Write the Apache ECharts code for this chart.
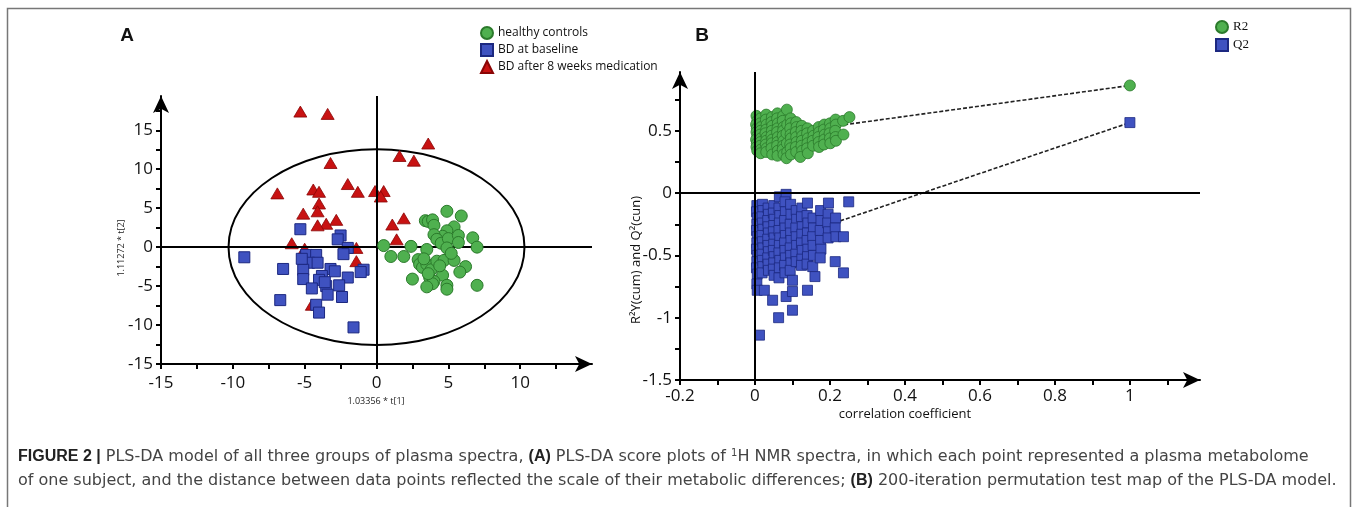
<!DOCTYPE html>
<html>
<head>
<meta charset="utf-8">
<title>PLS-DA</title>
<script src="https://cdn.jsdelivr.net/npm/echarts@6.0.0/dist/echarts.min.js"></script>
<style>
  html, body { margin: 0; padding: 0; background: #fff; }
  #main { width: 1357px; height: 507px; }
</style>
</head>
<body>
<div id="main"></div>
<script>
// A: score plot (x = t[1], y = t[2])
var healthy = [[0.5,0.2],[1.0,-1.2],[1.9,-1.2],[2.4,0.1],[2.5,-4.1],[2.9,-1.6],[3.0,-2.2],[3.2,-2.6],[3.5,-0.3],[3.5,-2.2],
  [3.8,-2.9],[3.4,3.4],[3.6,3.3],[3.9,3.5],[4.0,2.8],[4.9,4.6],[5.9,4.0],[5.4,2.6],[4.9,2.1],[4.6,1.4],
  [4.0,1.6],[4.2,1.0],[4.5,0.5],[5.0,1.1],[5.7,1.5],[5.7,0.6],[4.9,-0.1],[6.7,1.2],[7.0,0.0],[4.2,-1.8],
  [4.7,-1.7],[5.4,-1.7],[6.2,-2.5],[5.8,-3.2],[4.6,-3.6],[3.7,-3.9],[4.0,-4.4],[3.9,-4.7],[3.5,-5.1],[4.9,-4.9],
  [4.9,-5.4],[7.0,-4.9],[3.3,-1.5],[4.4,-2.4],[3.6,-3.4],[5.2,-0.8]];
var baseline = [[-5.3,2.3],[-9.2,-1.3],[-6.5,-2.8],[-6.7,-6.8],[-2.5,1.5],[-2.7,1.0],[-2.0,-0.1],[-2.3,-0.9],[-4.9,-1.0],[-4.2,-1.0],
  [-4.7,-2.0],[-4.1,-2.0],[-5.1,-2.9],[-3.2,-2.8],[-2.9,-3.1],[-0.9,-2.9],[-1.1,-3.2],[-5.1,-4.1],[-3.8,-3.7],[-4.0,-4.2],
  [-2.0,-3.9],[-4.5,-5.3],[-3.5,-5.0],[-3.4,-6.1],[-2.6,-4.9],[-2.4,-6.4],[-4.2,-7.4],[-4.0,-8.4],[-1.6,-10.3],[-3.6,-4.5],
  [-5.2,-1.5]];
var medicated = [[-5.3,17.4],[-3.4,17.1],[3.6,13.3],[1.6,11.7],[2.6,11.1],[-3.2,10.8],[-6.9,6.9],[-4.4,7.4],[-4.0,7.1],[-2.0,8.1],
  [-1.3,7.1],[-0.1,7.2],[0.5,7.2],[0.3,6.5],[-4.0,5.6],[-4.1,4.6],[-5.1,4.3],[-2.8,3.5],[-3.5,3.0],[-4.1,2.8],
  [1.1,2.9],[1.9,3.7],[1.4,1.0],[-5.9,0.5],[-5.0,-0.2],[-1.4,-0.1],[-1.4,-1.8],[-4.5,-7.4]];
// Hotelling ellipse: center x, center y, radius x, radius y
var ellipseA = [[0, 0, 10.3, 12.55]];

var labelsXA = [-15, -10, -5, 0, 5, 10];
var ticksXA = [-15, -12.5, -10, -7.5, -5, -2.5, 0, 2.5, 5, 7.5, 10, 12.5];
var labelsYA = [-15, -10, -5, 0, 5, 10, 15];
var ticksYA = [-15, -12.5, -10, -7.5, -5, -2.5, 0, 2.5, 5, 7.5, 10, 12.5, 15, 17.5];

// B: permutation test (x = correlation coefficient)
var r2Perm = [[0.004,0.62],[0.006,0.58],[0.003,0.55],[0.005,0.52],[0.004,0.49],[0.006,0.46],[0.003,0.43],[0.005,0.40],[0.004,0.37],[0.006,0.34],
  [0.015,0.60],[0.014,0.56],[0.016,0.53],[0.015,0.50],[0.014,0.47],[0.016,0.44],[0.015,0.41],[0.014,0.38],[0.016,0.35],[0.015,0.32],
  [0.030,0.63],[0.029,0.59],[0.031,0.55],[0.030,0.51],[0.028,0.48],[0.031,0.45],[0.030,0.42],[0.029,0.39],[0.031,0.36],[0.030,0.33],
  [0.045,0.61],[0.044,0.57],[0.046,0.54],[0.045,0.50],[0.044,0.46],[0.046,0.43],[0.045,0.40],[0.044,0.36],[0.046,0.31],
  [0.060,0.64],[0.059,0.60],[0.061,0.56],[0.060,0.52],[0.059,0.49],[0.061,0.45],[0.060,0.41],[0.059,0.38],[0.061,0.34],[0.060,0.30],
  [0.075,0.62],[0.074,0.58],[0.076,0.53],[0.075,0.50],[0.074,0.46],[0.076,0.42],[0.075,0.38],[0.074,0.35],[0.076,0.31],
  [0.085,0.67],[0.086,0.55],[0.084,0.48],[0.085,0.40],[0.086,0.33],[0.084,0.28],
  [0.095,0.60],[0.096,0.56],[0.094,0.52],[0.095,0.47],[0.096,0.44],[0.094,0.39],[0.095,0.36],[0.096,0.31],
  [0.110,0.57],[0.111,0.53],[0.109,0.49],[0.110,0.45],[0.111,0.41],[0.109,0.37],[0.110,0.33],
  [0.125,0.54],[0.124,0.50],[0.126,0.46],[0.125,0.42],[0.124,0.38],[0.126,0.34],[0.121,0.29],
  [0.140,0.52],[0.139,0.48],[0.141,0.44],[0.140,0.40],[0.139,0.36],[0.141,0.32],
  [0.155,0.50],[0.156,0.46],[0.154,0.42],[0.155,0.38],
  [0.170,0.53],[0.171,0.49],[0.169,0.45],[0.170,0.41],[0.171,0.37],
  [0.185,0.55],[0.184,0.51],[0.186,0.47],[0.185,0.43],[0.184,0.39],
  [0.200,0.56],[0.201,0.52],[0.199,0.48],[0.200,0.44],[0.201,0.40],
  [0.215,0.59],[0.216,0.55],[0.214,0.50],[0.215,0.45],[0.216,0.42],
  [0.235,0.58],[0.236,0.47],[0.252,0.61]];
var q2Perm = [[0.005,-0.10],[0.004,-0.15],[0.006,-0.20],[0.005,-0.25],[0.004,-0.30],[0.006,-0.35],[0.005,-0.40],[0.004,-0.45],[0.006,-0.50],[0.005,-0.55],
  [0.004,-0.60],[0.006,-0.65],[0.005,-0.73],[0.006,-0.78],
  [0.020,-0.09],[0.021,-0.14],[0.019,-0.19],[0.020,-0.24],[0.021,-0.29],[0.019,-0.34],[0.020,-0.39],[0.021,-0.44],[0.019,-0.49],[0.020,-0.54],
  [0.021,-0.59],[0.019,-0.64],[0.025,-0.78],
  [0.035,-0.12],[0.036,-0.17],[0.034,-0.22],[0.035,-0.27],[0.036,-0.32],[0.034,-0.37],[0.035,-0.42],[0.036,-0.47],[0.034,-0.52],[0.035,-0.57],
  [0.036,-0.62],
  [0.050,-0.10],[0.049,-0.16],[0.051,-0.21],[0.050,-0.26],[0.049,-0.31],[0.051,-0.36],[0.050,-0.41],[0.049,-0.46],[0.051,-0.51],[0.050,-0.56],
  [0.049,-0.61],[0.051,-0.66],[0.047,-0.86],
  [0.065,-0.03],[0.064,-0.12],[0.066,-0.18],[0.065,-0.24],[0.064,-0.30],[0.066,-0.36],[0.065,-0.42],[0.064,-0.48],[0.066,-0.54],[0.065,-0.60],
  [0.064,-0.68],[0.063,-1.00],
  [0.083,-0.01],[0.080,-0.07],[0.081,-0.15],[0.079,-0.22],[0.080,-0.28],[0.081,-0.34],[0.079,-0.40],[0.080,-0.46],[0.081,-0.52],[0.079,-0.58],
  [0.080,-0.64],[0.083,-0.83],
  [0.095,-0.09],[0.096,-0.17],[0.094,-0.25],[0.095,-0.32],[0.096,-0.38],[0.094,-0.44],[0.095,-0.50],[0.096,-0.56],[0.094,-0.62],[0.100,-0.70],
  [0.100,-0.79],[0.100,-0.94],
  [0.110,-0.14],[0.111,-0.21],[0.109,-0.28],[0.110,-0.35],[0.111,-0.42],[0.109,-0.49],[0.110,-0.55],
  [0.125,-0.12],[0.124,-0.19],[0.126,-0.27],[0.125,-0.33],[0.124,-0.40],[0.126,-0.46],[0.125,-0.53],[0.124,-0.58],
  [0.140,-0.08],[0.139,-0.18],[0.141,-0.24],[0.140,-0.32],[0.139,-0.38],[0.141,-0.45],[0.140,-0.51],[0.139,-0.57],[0.140,-0.78],
  [0.155,-0.20],[0.156,-0.28],[0.154,-0.35],[0.155,-0.42],[0.156,-0.50],[0.154,-0.59],[0.160,-0.67],
  [0.175,-0.14],[0.176,-0.22],[0.174,-0.30],[0.175,-0.38],[0.176,-0.45],[0.174,-0.52],
  [0.196,-0.08],[0.195,-0.17],[0.194,-0.24],[0.196,-0.31],[0.195,-0.36],
  [0.215,-0.20],[0.214,-0.28],[0.216,-0.35],[0.214,-0.55],
  [0.236,-0.35],[0.236,-0.64],[0.250,-0.07],[0.012,-1.14]];
var r2Model = [[1, 0.864]];
var q2Model = [[1, 0.566]];
// regression lines through the permutations (intercept at x = 0)
var r2Line = [[0, 0.45], [1, 0.864]];
var q2Line = [[0, -0.455], [1, 0.566]];

var labelsXB = [-0.2, 0, 0.2, 0.4, 0.6, 0.8, 1];
var ticksXB = [-0.2, -0.1, 0, 0.1, 0.2, 0.3, 0.4, 0.5, 0.6, 0.7, 0.8, 0.9, 1, 1.1];
var labelsYB = [-1.5, -1, -0.5, 0, 0.5];
var ticksYB = [-1.5, -1.25, -1, -0.75, -0.5, -0.25, 0, 0.25, 0.5, 0.75];

var green = '#4fb04f', greenEdge = '#2b7a2b';
var blue = '#3f52c0', blueEdge = '#1c2880';
var red = '#c81212', redEdge = '#8a0505';
var font = 'Open Sans';

function axisStyle(labels, ticks, margin) {
    return {
        axisLine: { show: true, onZero: false, symbol: ['none', 'arrow'], symbolSize: [12, 17],
            lineStyle: { color: '#000', width: 2 } },
        axisTick: { show: true, inside: false, length: 5, customValues: ticks,
            lineStyle: { color: '#000', width: 2 } },
        axisLabel: { customValues: labels, margin: margin, color: '#111', fontSize: 17, fontFamily: font },
        splitLine: { show: false }
    };
}

var crossLine = {
    silent: true, symbol: 'none', label: { show: false },
    lineStyle: { color: '#000', width: 2, type: 'solid' },
    data: [{ xAxis: 0 }, { yAxis: 0 }]
};

var capRich = {
    b: { fontWeight: 'bold', fontSize: 16, fontFamily: 'Liberation Sans', fill: '#222' },
    sup: { fontSize: 10, fontFamily: 'DejaVu Sans', verticalAlign: 'top', lineHeight: 18, fill: '#444' }
};

var myChart = echarts.init(document.getElementById('main'));
var option = {
    animation: false,
    backgroundColor: '#fff',
    grid: [
        { left: 161, top: 96, width: 431, height: 268 },
        { left: 680, top: 72, width: 520, height: 308 }
    ],
    xAxis: [
        Object.assign({ type: 'value', gridIndex: 0, min: -15, max: 15 }, axisStyle(labelsXA, ticksXA, 11)),
        Object.assign({ type: 'value', gridIndex: 1, min: -0.2, max: 1.187 }, axisStyle(labelsXB, ticksXB, 8))
    ],
    yAxis: [
        Object.assign({ type: 'value', gridIndex: 0, min: -15, max: 19.4 }, axisStyle(labelsYA, ticksYA, 8)),
        Object.assign({ type: 'value', gridIndex: 1, min: -1.5, max: 0.972 }, axisStyle(labelsYB, ticksYB, 8))
    ],
    legend: [
        {
            left: 480, top: 26, orient: 'vertical', padding: 0, itemGap: 3,
            itemWidth: 12, itemHeight: 12,
            textStyle: { fontFamily: font, fontSize: 12, color: '#111' },
            data: ['healthy controls', 'BD at baseline', 'BD after 8 weeks medication']
        },
        {
            left: 1215, top: 20, orient: 'vertical', padding: 0, itemGap: 4,
            itemWidth: 12, itemHeight: 12,
            textStyle: { fontFamily: 'Liberation Serif', fontSize: 13, color: '#111' },
            data: ['R2', 'Q2']
        }
    ],
    series: [
        {
            type: 'custom', xAxisIndex: 0, yAxisIndex: 0, silent: true, z: 1,
            data: ellipseA,
            renderItem: function (params, api) {
                var c = api.coord([api.value(0), api.value(1)]);
                var s = api.size([api.value(2), api.value(3)]);
                return {
                    type: 'ellipse',
                    shape: { cx: c[0], cy: c[1], rx: s[0], ry: s[1] },
                    style: { fill: 'none', stroke: '#000', lineWidth: 2 }
                };
            }
        },
        {
            type: 'line', xAxisIndex: 0, yAxisIndex: 0, data: [], silent: true,
            markLine: crossLine
        },
        {
            name: 'BD after 8 weeks medication', type: 'scatter', xAxisIndex: 0, yAxisIndex: 0, z: 3,
            symbol: 'triangle', symbolSize: [13, 11], data: medicated,
            itemStyle: { color: red, borderColor: redEdge, borderWidth: 0.8, opacity: 1 }
        },
        {
            name: 'BD at baseline', type: 'scatter', xAxisIndex: 0, yAxisIndex: 0, z: 4,
            symbol: 'rect', symbolSize: 11, data: baseline,
            itemStyle: { color: blue, borderColor: blueEdge, borderWidth: 1, opacity: 1 }
        },
        {
            name: 'healthy controls', type: 'scatter', xAxisIndex: 0, yAxisIndex: 0, z: 5,
            symbol: 'circle', symbolSize: 12, data: healthy,
            itemStyle: { color: green, borderColor: greenEdge, borderWidth: 1, opacity: 1 }
        },
        {
            type: 'line', xAxisIndex: 1, yAxisIndex: 1, data: [], silent: true,
            markLine: crossLine
        },
        {
            type: 'line', xAxisIndex: 1, yAxisIndex: 1, data: r2Line, silent: true, z: 2,
            symbol: 'none', lineStyle: { color: '#222', width: 1.6, type: [4, 2] }
        },
        {
            type: 'line', xAxisIndex: 1, yAxisIndex: 1, data: q2Line, silent: true, z: 2,
            symbol: 'none', lineStyle: { color: '#222', width: 1.6, type: [4, 2] }
        },
        {
            name: 'R2', type: 'scatter', xAxisIndex: 1, yAxisIndex: 1, z: 4,
            symbol: 'circle', symbolSize: 11, data: r2Perm.concat(r2Model),
            itemStyle: { color: green, borderColor: greenEdge, borderWidth: 0.8, opacity: 1 }
        },
        {
            name: 'Q2', type: 'scatter', xAxisIndex: 1, yAxisIndex: 1, z: 4,
            symbol: 'rect', symbolSize: 10, data: q2Perm.concat(q2Model),
            itemStyle: { color: blue, borderColor: blueEdge, borderWidth: 0.8, opacity: 1 }
        }
    ],
    graphic: [
        { type: 'rect', silent: true, shape: { x: 7.5, y: 8.5, width: 1343, height: 520 },
          style: { fill: 'none', stroke: '#777', lineWidth: 1.5 } },
        { type: 'text', x: 127, y: 36, style: { text: 'A', font: 'bold 19px "Liberation Sans"', fill: '#111', align: 'center', verticalAlign: 'middle' } },
        { type: 'text', x: 702, y: 36, style: { text: 'B', font: 'bold 19px "Liberation Sans"', fill: '#111', align: 'center', verticalAlign: 'middle' } },
        { type: 'text', x: 121, y: 248, rotation: Math.PI / 2,
          style: { text: '1.11272 * t[2]', font: '9px "Open Sans"', fill: '#222', align: 'center', verticalAlign: 'middle' } },
        { type: 'text', x: 376, y: 401,
          style: { text: '1.03356 * t[1]', font: '9px "Open Sans"', fill: '#222', align: 'center', verticalAlign: 'middle' } },
        { type: 'text', x: 636, y: 260, rotation: Math.PI / 2,
          style: { text: 'R²Y(cum) and Q²(cun)', font: '13px "Open Sans"', fill: '#111', align: 'center', verticalAlign: 'middle' } },
        { type: 'text', x: 905, y: 414,
          style: { text: 'correlation coefficient', font: '13px "Open Sans"', fill: '#111', align: 'center', verticalAlign: 'middle' } },
        { type: 'text', x: 18, y: 457,
          style: {
              text: '{b|FIGURE 2 |} PLS-DA model of all three groups of plasma spectra, {b|(A)} PLS-DA score plots of {sup|1}H NMR spectra, in which each point represented a plasma metabolome',
              font: '16px "DejaVu Sans"', fill: '#444', verticalAlign: 'middle', lineHeight: 18,
              rich: capRich
          } },
        { type: 'text', x: 18, y: 481,
          style: {
              text: 'of one subject, and the distance between data points reflected the scale of their metabolic differences; {b|(B)} 200-iteration permutation test map of the PLS-DA model.',
              font: '16px "DejaVu Sans"', fill: '#444', verticalAlign: 'middle', lineHeight: 18,
              rich: capRich
          } }
    ]
};
myChart.setOption(option);
window.addEventListener('resize', function () {
    myChart.resize();
});
</script>
</body>
</html>
